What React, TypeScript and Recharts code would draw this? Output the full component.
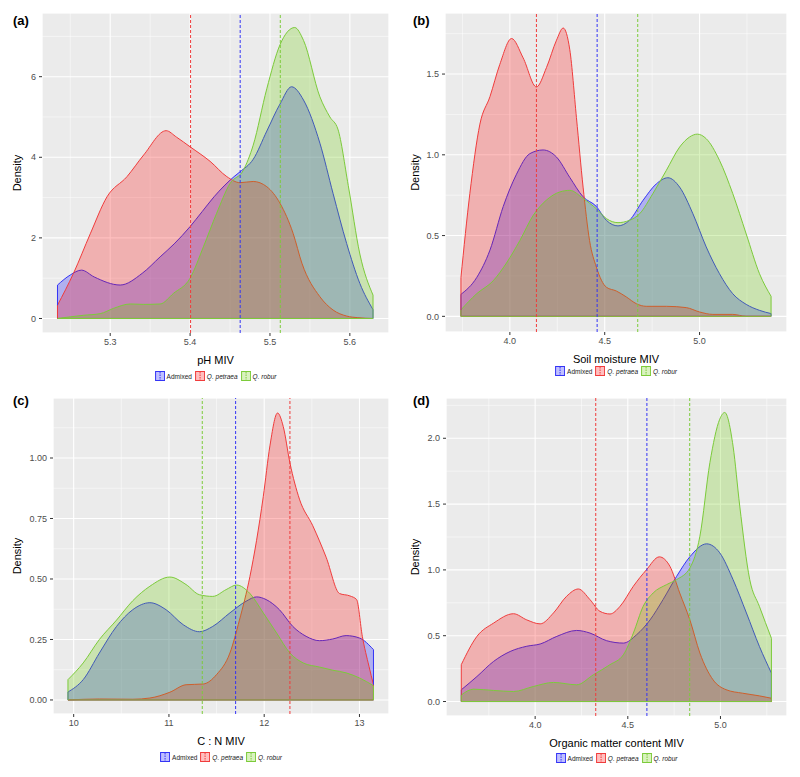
import React from 'react';
import {
  ComposedChart,
  Area,
  XAxis,
  YAxis,
  CartesianGrid,
  ReferenceLine,
} from 'recharts';

// group colours (fill / outline)
const BLUE = { fill: '#0000FF', stroke: '#3434F5' };
const RED = { fill: '#FF0000', stroke: '#F03C3C' };
const GREEN = { fill: '#66CC00', stroke: '#7CCB3A' };

const groups = ['Admixed', 'Q. petraea', 'Q. robur'];

// (a) pH MIV
const phAdmixedX = [5.234, 5.25, 5.264, 5.28, 5.3125, 5.34, 5.3625, 5.38, 5.4, 5.415, 5.43, 5.455, 5.4625, 5.479, 5.496, 5.5125, 5.527, 5.542, 5.5625, 5.579, 5.596, 5.6125, 5.629];
const phAdmixedY = [0.83, 1.08, 1.2, 1.03, 0.83, 1.12, 1.53, 1.85, 2.28, 2.65, 3.02, 3.52, 3.64, 3.95, 4.65, 5.32, 5.75, 5.42, 4.35, 3.1, 1.86, 0.87, 0.22];
const phPetraeaX = [5.234, 5.254, 5.275, 5.296, 5.321, 5.342, 5.37, 5.383, 5.4, 5.425, 5.446, 5.4625, 5.479, 5.496, 5.5125, 5.529, 5.54, 5.5625, 5.579, 5.596, 5.61, 5.629];
const phPetraeaY = [0.33, 1.12, 2.1, 3.02, 3.52, 4.06, 4.66, 4.5, 4.26, 3.9, 3.52, 3.37, 3.4, 3.27, 2.86, 2.11, 1.37, 0.54, 0.21, 0.06, 0.02, 0.0];
const phRoburX = [5.234, 5.2667, 5.2875, 5.304, 5.325, 5.342, 5.3625, 5.379, 5.4, 5.4167, 5.433, 5.45, 5.4667, 5.479, 5.496, 5.5125, 5.531, 5.542, 5.5625, 5.575, 5.585, 5.598, 5.6125, 5.629];
const phRoburY = [0.0, 0.08, 0.12, 0.25, 0.36, 0.35, 0.36, 0.62, 1.0, 1.78, 2.6, 3.35, 3.68, 4.3, 5.7, 6.79, 7.22, 6.9, 5.5, 5.0, 4.7, 3.3, 1.6, 0.58];
const phMeans = [5.4627, 5.4006, 5.5129];

// (b) Soil moisture MIV
const smAdmixedX = [3.742, 3.825, 3.895, 3.965, 4.035, 4.105, 4.175, 4.246, 4.316, 4.386, 4.456, 4.509, 4.57, 4.63, 4.702, 4.772, 4.833, 4.895, 4.965, 5.035, 5.105, 5.175, 5.246, 5.316, 5.377];
const smAdmixedY = [0.136, 0.24, 0.41, 0.68, 0.88, 1.007, 1.03, 0.986, 0.86, 0.74, 0.68, 0.594, 0.56, 0.594, 0.718, 0.82, 0.858, 0.8, 0.635, 0.43, 0.264, 0.14, 0.074, 0.037, 0.017];
const smPetraeaX = [3.742, 3.789, 3.842, 3.895, 3.947, 4.009, 4.07, 4.14, 4.193, 4.246, 4.281, 4.316, 4.351, 4.386, 4.42, 4.456, 4.509, 4.561, 4.614, 4.667, 4.719, 4.825, 4.93, 5.0, 5.07, 5.175, 5.246, 5.377];
const smPetraeaY = [0.24, 0.76, 1.19, 1.36, 1.56, 1.72, 1.6, 1.42, 1.54, 1.71, 1.785, 1.65, 1.23, 0.8, 0.47, 0.305, 0.18, 0.157, 0.12, 0.078, 0.062, 0.062, 0.054, 0.027, 0.012, 0.012, 0.0, 0.0];
const smRoburX = [3.742, 3.825, 3.912, 3.982, 4.053, 4.123, 4.193, 4.263, 4.316, 4.386, 4.456, 4.509, 4.57, 4.63, 4.684, 4.754, 4.825, 4.895, 4.947, 4.988, 5.035, 5.105, 5.175, 5.246, 5.316, 5.377];
const smRoburY = [0.04, 0.14, 0.22, 0.33, 0.47, 0.625, 0.72, 0.77, 0.78, 0.73, 0.666, 0.605, 0.58, 0.594, 0.635, 0.76, 0.904, 1.048, 1.11, 1.128, 1.1, 0.966, 0.76, 0.51, 0.264, 0.124];
const smMeans = [4.46, 4.14, 4.674];

// (c) C : N MIV
const cnAdmixedX = [9.94, 10.1, 10.27, 10.45, 10.62, 10.8, 10.97, 11.15, 11.32, 11.46, 11.64, 11.81, 11.92, 12.02, 12.16, 12.3, 12.44, 12.58, 12.72, 12.86, 13.0, 13.147];
const cnAdmixedY = [0.033, 0.084, 0.194, 0.304, 0.373, 0.402, 0.373, 0.311, 0.282, 0.304, 0.36, 0.408, 0.426, 0.415, 0.373, 0.304, 0.263, 0.245, 0.252, 0.266, 0.256, 0.208];
const cnPetraeaX = [9.94, 10.27, 10.62, 10.8, 11.01, 11.18, 11.36, 11.5, 11.64, 11.74, 11.85, 11.92, 11.99, 12.06, 12.14, 12.2, 12.27, 12.37, 12.51, 12.65, 12.79, 12.9, 12.97, 13.03, 13.1, 13.147];
const cnPetraeaY = [0.0, 0.004, 0.003, 0.008, 0.032, 0.063, 0.066, 0.105, 0.194, 0.33, 0.51, 0.66, 0.84, 1.05, 1.186, 1.13, 0.98, 0.83, 0.72, 0.59, 0.44, 0.43, 0.415, 0.263, 0.139, 0.063];
const cnRoburX = [9.94, 10.1, 10.27, 10.45, 10.62, 10.8, 11.01, 11.18, 11.32, 11.46, 11.6, 11.71, 11.85, 11.99, 12.13, 12.27, 12.41, 12.58, 12.72, 12.86, 13.0, 13.147];
const cnRoburY = [0.084, 0.153, 0.25, 0.33, 0.41, 0.47, 0.508, 0.477, 0.435, 0.428, 0.456, 0.475, 0.44, 0.36, 0.277, 0.194, 0.153, 0.136, 0.123, 0.112, 0.091, 0.059];
const cnMeans = [11.7, 12.27, 11.35];

// (d) Organic matter content MIV
const omAdmixedX = [3.6015, 3.686, 3.776, 3.865, 3.955, 4.027, 4.117, 4.224, 4.296, 4.386, 4.476, 4.548, 4.62, 4.69, 4.763, 4.835, 4.925, 4.996, 5.068, 5.14, 5.21, 5.275];
const omAdmixedY = [0.089, 0.19, 0.305, 0.38, 0.42, 0.437, 0.495, 0.54, 0.52, 0.462, 0.444, 0.508, 0.62, 0.774, 0.95, 1.1, 1.198, 1.13, 0.926, 0.673, 0.419, 0.216];
const omPetraeaX = [3.6015, 3.686, 3.776, 3.883, 3.955, 4.027, 4.099, 4.17, 4.233, 4.296, 4.35, 4.404, 4.458, 4.53, 4.6, 4.67, 4.727, 4.78, 4.835, 4.889, 4.96, 5.03, 5.12, 5.21, 5.275];
const omPetraeaY = [0.28, 0.495, 0.596, 0.667, 0.62, 0.59, 0.673, 0.8, 0.855, 0.774, 0.685, 0.665, 0.723, 0.876, 1.0, 1.099, 1.028, 0.825, 0.62, 0.368, 0.165, 0.09, 0.063, 0.043, 0.025];
const omRoburX = [3.6015, 3.668, 3.776, 3.883, 3.99, 4.099, 4.224, 4.314, 4.404, 4.476, 4.53, 4.583, 4.637, 4.709, 4.763, 4.835, 4.889, 4.943, 4.996, 5.023, 5.068, 5.104, 5.158, 5.21, 5.275];
const omRoburY = [0.05, 0.094, 0.084, 0.076, 0.114, 0.145, 0.127, 0.203, 0.28, 0.355, 0.52, 0.723, 0.825, 0.888, 0.926, 1.015, 1.256, 1.815, 2.145, 2.196, 1.94, 1.485, 0.926, 0.723, 0.48];
const omMeans = [4.603, 4.327, 4.834];

type Series = { key: string; xs: number[]; ys: number[]; color: { fill: string; stroke: string } };

function buildTable(series: Series[]) {
  const rows = new Map<number, any>();
  series.forEach((s) => {
    s.xs.forEach((x, i) => {
      const row = rows.get(x) ?? { x };
      row[s.key] = s.ys[i];
      rows.set(x, row);
    });
  });
  return Array.from(rows.values()).sort((a, b) => a.x - b.x);
}

function mkSeries(xs: number[][], ys: number[][]): Series[] {
  const keys = ['admixed', 'petraea', 'robur'];
  const cols = [BLUE, RED, GREEN];
  return keys.map((key, i) => ({ key, xs: xs[i], ys: ys[i], color: cols[i] }));
}

const FONT = '"Liberation Sans", Arial, Helvetica, sans-serif';

function LegendKey({ color }: { color: { fill: string; stroke: string } }) {
  return (
    <svg width={10} height={10} style={{ display: 'block' }}>
      <rect x={0.5} y={0.5} width={9} height={9} fill={color.fill} fillOpacity={0.25} stroke={color.stroke} strokeWidth={1} />
      <line x1={5} y1={1} x2={5} y2={9} stroke={color.stroke} strokeWidth={1} strokeDasharray="1.5 1" />
    </svg>
  );
}

function GroupLegend({ cx, top }: { cx: number; top: number }) {
  const cols = [BLUE, RED, GREEN];
  return (
    <div
      style={{
        position: 'absolute',
        left: cx,
        top,
        transform: 'translateX(-50%)',
        display: 'flex',
        alignItems: 'center',
        fontSize: 6.5,
        color: '#222',
        whiteSpace: 'nowrap',
      }}
    >
      {groups.map((g, i) => (
        <div key={g} style={{ display: 'flex', alignItems: 'center', marginRight: i < 2 ? 3 : 0 }}>
          <LegendKey color={cols[i]} />
          <span style={{ marginLeft: 2, fontStyle: i === 0 ? 'normal' : 'italic' }}>{g}</span>
        </div>
      ))}
    </div>
  );
}

interface PanelProps {
  left: number;
  top: number;
  width: number;
  height: number;
  plot: { x0: number; x1: number; y0: number; y1: number };
  tag: string;
  xLabel: string;
  xDomain: [number, number];
  yDomain: [number, number];
  xTicks: number[];
  yTicks: number[];
  xMinor: number[];
  yMinor: number[];
  xDec: number;
  yDec: number;
  yLabelX: number;
  series: Series[];
  means: number[];
  legendTop: number;
}

function Panel(p: PanelProps) {
  const data = buildTable(p.series);
  const xAxisHeight = 32;
  const margin = {
    top: p.plot.y0,
    right: p.width - p.plot.x1,
    left: 0,
    bottom: p.height - p.plot.y1 - xAxisHeight,
  };
  const tickStyle = { fontSize: 9, fill: '#4D4D4D', fontFamily: FONT };
  return (
    <div style={{ position: 'absolute', left: p.left, top: p.top, width: p.width, height: p.height }}>
      <ComposedChart width={p.width} height={p.height} data={data} margin={margin}>
        <CartesianGrid fill="#EBEBEB" stroke="#FFFFFF" strokeWidth={1.1} />
        <CartesianGrid xAxisId="minor" yAxisId="minor" stroke="#FFFFFF" strokeWidth={0.5} />
        <XAxis
          dataKey="x"
          type="number"
          domain={p.xDomain}
          ticks={p.xTicks}
          allowDataOverflow
          tickFormatter={(v: number) => v.toFixed(p.xDec)}
          tick={tickStyle}
          tickSize={3}
          tickMargin={3}
          axisLine={false}
          tickLine={{ stroke: '#333333' }}
          height={xAxisHeight}
          label={{ value: p.xLabel, position: 'insideBottom', offset: 1, style: { fontSize: 11, fill: '#000', fontFamily: FONT } }}
        />
        <YAxis
          type="number"
          domain={p.yDomain}
          ticks={p.yTicks}
          allowDataOverflow
          tickFormatter={(v: number) => v.toFixed(p.yDec)}
          tick={tickStyle}
          tickSize={3}
          tickMargin={3}
          axisLine={false}
          tickLine={{ stroke: '#333333' }}
          width={p.plot.x0}
          label={{
            value: 'Density',
            angle: -90,
            position: 'insideLeft',
            offset: p.yLabelX,
            style: { fontSize: 11, fill: '#000', textAnchor: 'middle', fontFamily: FONT },
          }}
        />
        <XAxis xAxisId="minor" dataKey="x" type="number" domain={p.xDomain} ticks={p.xMinor} allowDataOverflow hide />
        <YAxis yAxisId="minor" type="number" domain={p.yDomain} ticks={p.yMinor} allowDataOverflow hide />
        {p.series.map((s) => (
          <Area
            key={s.key}
            dataKey={s.key}
            type="monotone"
            connectNulls
            baseValue={0}
            fill={s.color.fill}
            fillOpacity={0.25}
            stroke={s.color.stroke}
            strokeWidth={1}
            dot={false}
            activeDot={false}
            isAnimationActive={false}
          />
        ))}
        {/* closed outline of each density polygon: end edges and baseline */}
        {p.series.map((s) => {
          const n = s.xs.length - 1;
          return [
            <ReferenceLine
              key={s.key + '-l'}
              segment={[{ x: s.xs[0], y: 0 }, { x: s.xs[0], y: s.ys[0] }]}
              stroke={s.color.stroke}
              strokeWidth={1}
            />,
            <ReferenceLine
              key={s.key + '-r'}
              segment={[{ x: s.xs[n], y: 0 }, { x: s.xs[n], y: s.ys[n] }]}
              stroke={s.color.stroke}
              strokeWidth={1}
            />,
            <ReferenceLine
              key={s.key + '-b'}
              segment={[{ x: s.xs[0], y: 0 }, { x: s.xs[n], y: 0 }]}
              stroke={s.color.stroke}
              strokeWidth={1}
            />,
          ];
        })}
        {p.means.map((m, i) => (
          <ReferenceLine
            key={'m' + i}
            x={m}
            stroke={p.series[i].color.stroke}
            strokeWidth={1}
            strokeDasharray="3 2"
          />
        ))}
      </ComposedChart>
      <div style={{ position: 'absolute', left: 13, top: 13, fontSize: 13, fontWeight: 'bold', fontFamily: FONT }}>
        {p.tag}
      </div>
      <GroupLegend cx={(p.plot.x0 + p.plot.x1) / 2} top={p.legendTop} />
    </div>
  );
}

export default function App() {
  return (
    <div
      style={{
        position: 'absolute',
        left: 0,
        top: 0,
        width: 800,
        height: 777,
        background: '#FFFFFF',
        fontFamily: FONT,
      }}
    >
      <Panel
        left={0}
        top={0}
        width={400}
        height={380}
        plot={{ x0: 42, x1: 389, y0: 13, y1: 333 }}
        tag="(a)"
        xLabel="pH MIV"
        xDomain={[5.2146, 5.649]}
        yDomain={[-0.36, 7.58]}
        xTicks={[5.3, 5.4, 5.5, 5.6]}
        yTicks={[0, 2, 4, 6]}
        xMinor={[5.25, 5.35, 5.45, 5.55]}
        yMinor={[1, 3, 5, 7]}
        xDec={1}
        yDec={0}
        yLabelX={17}
        series={mkSeries([phAdmixedX, phPetraeaX, phRoburX], [phAdmixedY, phPetraeaY, phRoburY])}
        means={phMeans}
        legendTop={371}
      />
      <Panel
        left={400}
        top={0}
        width={400}
        height={380}
        plot={{ x0: 45, x1: 387, y0: 13, y1: 332 }}
        tag="(b)"
        xLabel="Soil moisture MIV"
        xDomain={[3.658, 5.461]}
        yDomain={[-0.097, 1.878]}
        xTicks={[4.0, 4.5, 5.0]}
        yTicks={[0, 0.5, 1.0, 1.5]}
        xMinor={[3.75, 4.25, 4.75, 5.25]}
        yMinor={[0.25, 0.75, 1.25, 1.75]}
        xDec={1}
        yDec={1}
        yLabelX={15}
        series={mkSeries([smAdmixedX, smPetraeaX, smRoburX], [smAdmixedY, smPetraeaY, smRoburY])}
        means={smMeans}
        legendTop={366}
      />
      <Panel
        left={0}
        top={380}
        width={400}
        height={397}
        plot={{ x0: 53, x1: 389, y0: 18, y1: 334 }}
        tag="(c)"
        xLabel="C : N MIV"
        xDomain={[9.783, 13.31]}
        yDomain={[-0.058, 1.248]}
        xTicks={[10, 11, 12, 13]}
        yTicks={[0, 0.25, 0.5, 0.75, 1.0]}
        xMinor={[10.5, 11.5, 12.5]}
        yMinor={[0.125, 0.375, 0.625, 0.875, 1.125]}
        xDec={0}
        yDec={2}
        yLabelX={17}
        series={mkSeries([cnAdmixedX, cnPetraeaX, cnRoburX], [cnAdmixedY, cnPetraeaY, cnRoburY])}
        means={cnMeans}
        legendTop={372}
      />
      <Panel
        left={400}
        top={380}
        width={400}
        height={397}
        plot={{ x0: 46, x1: 387, y0: 18, y1: 336 }}
        tag="(d)"
        xLabel="Organic matter content MIV"
        xDomain={[3.519, 5.359]}
        yDomain={[-0.11, 2.306]}
        xTicks={[4.0, 4.5, 5.0]}
        yTicks={[0, 0.5, 1.0, 1.5, 2.0]}
        xMinor={[3.75, 4.25, 4.75, 5.25]}
        yMinor={[0.25, 0.75, 1.25, 1.75, 2.25]}
        xDec={1}
        yDec={1}
        yLabelX={15}
        series={mkSeries([omAdmixedX, omPetraeaX, omRoburX], [omAdmixedY, omPetraeaY, omRoburY])}
        means={omMeans}
        legendTop={373}
      />
    </div>
  );
}
